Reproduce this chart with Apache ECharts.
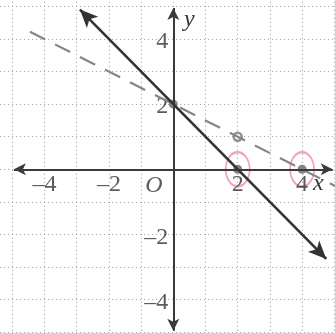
<!DOCTYPE html>
<html>
<head>
<meta charset="utf-8">
<script src="https://cdn.jsdelivr.net/npm/echarts@6/dist/echarts.min.js"></script>
<style>
  html, body { margin: 0; padding: 0; background: #fff; }
  #chart { width: 335px; height: 333px; }
</style>
</head>
<body>
<div id="chart"></div>
<script>
// tick labels shown on the axes
const xTicks = [-4, -2, 2, 4];
const yTicks = [-4, -2, 2, 4];

// solid line y = 2 - x, ends with arrows
const solidLine = [[-2.9, 4.9], [4.75, -2.75]];
// dashed line y = 2 - x/2
const dashedLine = [[-4.45, 4.22], [5.1, -0.55]];
// axis arrows
const xAxisEnds = [[-4.95, 0], [4.95, 0]];
const yAxisEnds = [[0, 4.95], [0, -4.95]];

// marked points
const filledPoints = [[0, 2], [2, 0], [4, 0]];
const openPoints = [[2, 1]];
const circledPoints = [[2, 0], [4, 0]];

const originLabel = [[-0.6, -0.5]];

const minus = v => (v < 0 ? '\u2013' + Math.abs(v) : String(v));
const font = 'Liberation Serif, Times New Roman, serif';

const gridLine = { show: true, lineStyle: { color: '#a0a0a0', type: [1, 3], width: 1.2 } };

const chart = echarts.init(document.getElementById('chart'));
chart.setOption({
  animation: false,
  backgroundColor: '#fff',
  textStyle: { fontFamily: font },
  grid: {
    left: -19.9, right: 0.7, top: -26.3, bottom: -31.9,
    containLabel: false, outerBoundsMode: 'none'
  },
  xAxis: {
    type: 'value', min: -6, max: 5, interval: 1,
    axisLine: { show: false }, axisTick: { show: false }, axisLabel: { show: false },
    splitLine: gridLine
  },
  yAxis: {
    type: 'value', min: -6, max: 6, interval: 1,
    axisLine: { show: false }, axisTick: { show: false }, axisLabel: { show: false },
    splitLine: gridLine
  },
  series: [
    {
      type: 'line', data: [], silent: true,
      markLine: {
        silent: true, symbol: ['arrow', 'arrow'], symbolSize: [9, 12], label: { show: false },
        lineStyle: { color: '#3a3a3a', width: 2, type: 'solid' },
        data: [
          [{ coord: xAxisEnds[0] }, { coord: xAxisEnds[1] }],
          [{ coord: yAxisEnds[0] }, { coord: yAxisEnds[1] }]
        ]
      }
    },
    {
      type: 'line', data: dashedLine, showSymbol: false, silent: true,
      lineStyle: { color: '#858585', width: 2.2, type: [17, 11] }
    },
    {
      type: 'line', data: [], silent: true,
      markLine: {
        silent: true, symbol: ['arrow', 'arrow'], symbolSize: [12, 18], label: { show: false },
        lineStyle: { color: '#333', width: 2.6, type: 'solid' },
        data: [[{ coord: solidLine[0] }, { coord: solidLine[1] }]]
      }
    },
    {
      type: 'scatter', data: filledPoints, symbolSize: 9, silent: true,
      itemStyle: { color: '#666' }
    },
    {
      type: 'scatter', data: openPoints, symbolSize: 8, silent: true,
      itemStyle: { color: '#fff', borderColor: '#777', borderWidth: 2.5 }
    },
    {
      type: 'scatter', data: circledPoints, symbol: 'circle', symbolSize: [24, 34], silent: true,
      itemStyle: { color: 'rgba(0,0,0,0)', borderColor: '#ef8fa8', borderWidth: 2 }
    },
    {
      type: 'scatter', data: xTicks.map(v => [v, 0]), symbolSize: 0, silent: true,
      label: {
        show: true, position: 'bottom', distance: 3, formatter: p => minus(p.value[0]),
        color: '#333', fontFamily: font, fontSize: 24
      }
    },
    {
      type: 'scatter', data: yTicks.map(v => [0, v]), symbolSize: 0, silent: true,
      label: {
        show: true, position: 'left', distance: 5, formatter: p => minus(p.value[1]),
        color: '#333', fontFamily: font, fontSize: 24, offset: [0, 3]
      }
    },
    {
      type: 'scatter', data: originLabel, symbolSize: 0, silent: true,
      label: {
        show: true, formatter: 'O', position: 'inside',
        color: '#333', fontFamily: font, fontSize: 24, fontStyle: 'italic'
      }
    }
  ],
  graphic: [
    { type: 'text', left: 184, top: 8, style: { text: 'y', font: 'italic 24px "Liberation Serif"', fill: '#333' } },
    { type: 'text', left: 313, top: 172, style: { text: 'x', font: 'italic 24px "Liberation Serif"', fill: '#333' } }
  ]
});
</script>
</body>
</html>
